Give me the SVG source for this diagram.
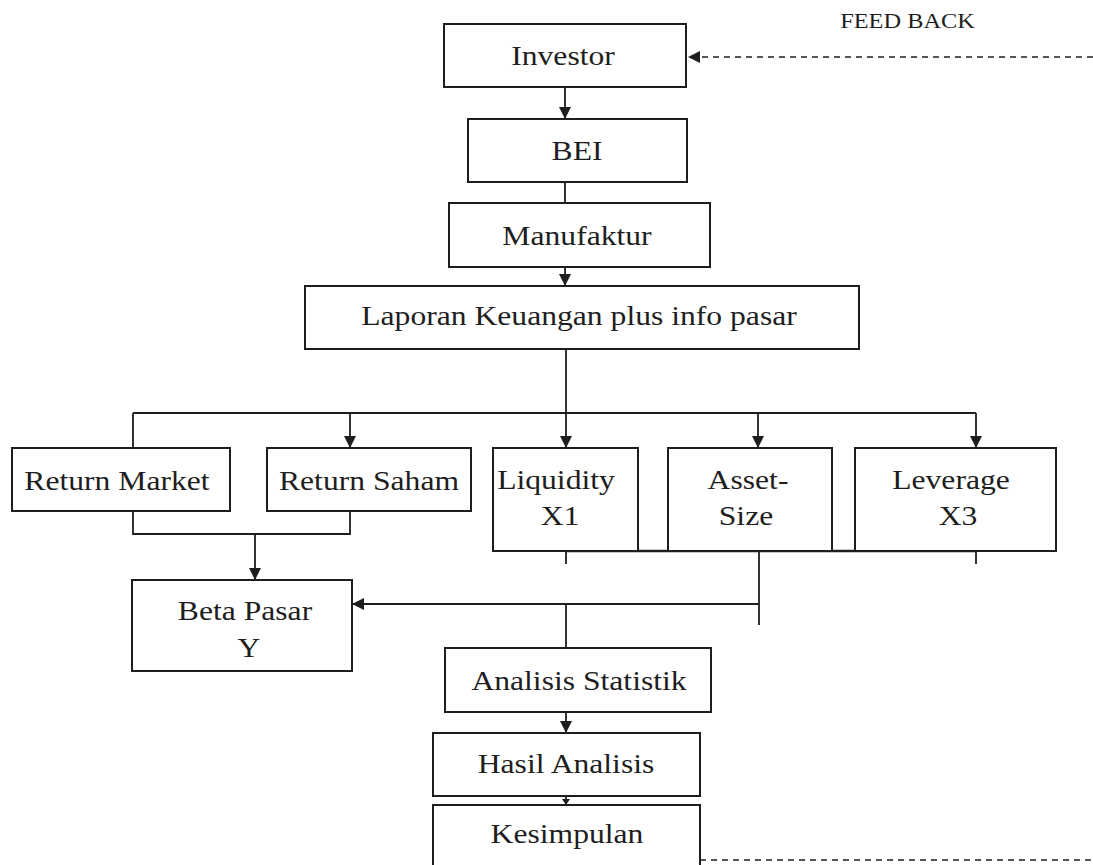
<svg xmlns="http://www.w3.org/2000/svg" width="1093" height="865" viewBox="0 0 1093 865">
  <defs>
    <style>
      .box { fill: #ffffff; stroke: #1e1e1e; stroke-width: 2; }
      .lbl { font-family: "Liberation Serif", "Times New Roman", serif; font-size: 28px; fill: #1e1e1e; text-anchor: middle; }
      .small { font-family: "Liberation Serif", "Times New Roman", serif; font-size: 21px; fill: #1e1e1e; text-anchor: middle; }
      .con { fill: none; stroke: #1e1e1e; stroke-width: 1.8; }
      .thick { fill: none; stroke: #1e1e1e; stroke-width: 2.6; }
      .dash { fill: none; stroke: #1e1e1e; stroke-width: 1.6; stroke-dasharray: 6 5; }
    </style>
    <marker id="arr" markerUnits="userSpaceOnUse" markerWidth="13" markerHeight="12" refX="12" refY="6" orient="auto">
      <path d="M0,0 L12,6 L0,12 z" fill="#1e1e1e"/>
    </marker>
    <marker id="arrS" markerUnits="userSpaceOnUse" markerWidth="7" markerHeight="8" refX="6" refY="4" orient="auto">
      <path d="M0,0 L6,4 L0,8 z" fill="#1e1e1e"/>
    </marker>
  </defs>
  <rect width="1093" height="865" fill="#ffffff"/>

  <text class="small" transform="translate(907.5 0) scale(1.16 1)" x="0" y="28.5">FEED BACK</text>

  <g id="connectors">
    <line class="dash" x1="1093" y1="57" x2="688" y2="57" marker-end="url(#arr)"/>
    <line class="con" x1="565" y1="87" x2="565" y2="119" marker-end="url(#arr)"/>
    <line class="con" x1="565" y1="182" x2="565" y2="203"/>
    <line class="con" x1="565" y1="267" x2="565" y2="286" marker-end="url(#arr)"/>
    <line class="con" x1="566" y1="349" x2="566" y2="448" marker-end="url(#arr)"/>
    <line class="con" x1="133" y1="413" x2="976" y2="413"/>
    <line class="con" x1="133" y1="413" x2="133" y2="448"/>
    <line class="con" x1="350" y1="413" x2="350" y2="448" marker-end="url(#arr)"/>
    <line class="con" x1="758" y1="413" x2="758" y2="448" marker-end="url(#arr)"/>
    <line class="con" x1="976" y1="413" x2="976" y2="448" marker-end="url(#arr)"/>
    <polyline class="con" points="133,511 133,534 350,534 350,511"/>
    <line class="con" x1="255" y1="534" x2="255" y2="580" marker-end="url(#arr)"/>
    <line class="thick" x1="566" y1="551" x2="976" y2="551"/>
    <line class="con" x1="566" y1="551" x2="566" y2="564"/>
    <line class="con" x1="976" y1="551" x2="976" y2="564"/>
    <line class="con" x1="759" y1="551" x2="759" y2="625"/>
    <line class="con" x1="759" y1="604" x2="352" y2="604" marker-end="url(#arr)"/>
    <line class="con" x1="566" y1="604" x2="566" y2="648"/>
    <line class="con" x1="566" y1="712" x2="566" y2="733" marker-end="url(#arr)"/>
    <line class="con" x1="566" y1="796" x2="566" y2="805" marker-end="url(#arrS)"/>
    <line class="dash" x1="700" y1="860" x2="1093" y2="860"/>
  </g>

  <g id="investor">
    <rect class="box" x="444" y="24" width="242" height="63"/>
    <text class="lbl" transform="translate(563 0) scale(1.13 1)" x="0" y="65">Investor</text>
  </g>
  <g id="bei">
    <rect class="box" x="468" y="119" width="219" height="63"/>
    <text class="lbl" transform="translate(577 0) scale(1.13 1)" x="0" y="160">BEI</text>
  </g>
  <g id="manufaktur">
    <rect class="box" x="449" y="203" width="261" height="64"/>
    <text class="lbl" transform="translate(577 0) scale(1.13 1)" x="0" y="245">Manufaktur</text>
  </g>
  <g id="laporan">
    <rect class="box" x="305" y="286" width="554" height="63"/>
    <text class="lbl" transform="translate(579 0) scale(1.13 1)" x="0" y="325">Laporan Keuangan plus info pasar</text>
  </g>
  <g id="return-market">
    <rect class="box" x="12" y="448" width="218" height="63"/>
    <text class="lbl" transform="translate(117 0) scale(1.13 1)" x="0" y="490">Return Market</text>
  </g>
  <g id="return-saham">
    <rect class="box" x="267" y="448" width="204" height="63"/>
    <text class="lbl" transform="translate(369 0) scale(1.13 1)" x="0" y="490">Return Saham</text>
  </g>
  <g id="liquidity">
    <rect class="box" x="493" y="448" width="145" height="103"/>
    <text class="lbl" transform="translate(556 0) scale(1.13 1)" x="0" y="489">Liquidity</text>
    <text class="lbl" transform="translate(560 0) scale(1.13 1)" x="0" y="525">X1</text>
  </g>
  <g id="asset-size">
    <rect class="box" x="668" y="448" width="164" height="103"/>
    <text class="lbl" transform="translate(748 0) scale(1.13 1)" x="0" y="489">Asset-</text>
    <text class="lbl" transform="translate(746 0) scale(1.13 1)" x="0" y="525">Size</text>
  </g>
  <g id="leverage">
    <rect class="box" x="855" y="448" width="201" height="103"/>
    <text class="lbl" transform="translate(951 0) scale(1.13 1)" x="0" y="489">Leverage</text>
    <text class="lbl" transform="translate(958 0) scale(1.13 1)" x="0" y="525">X3</text>
  </g>
  <g id="beta-pasar">
    <rect class="box" x="132" y="580" width="220" height="91"/>
    <text class="lbl" transform="translate(245 0) scale(1.13 1)" x="0" y="620">Beta Pasar</text>
    <text class="lbl" transform="translate(249 0) scale(1.13 1)" x="0" y="657">Y</text>
  </g>
  <g id="analisis-statistik">
    <rect class="box" x="445" y="648" width="266" height="64"/>
    <text class="lbl" transform="translate(579 0) scale(1.13 1)" x="0" y="690">Analisis Statistik</text>
  </g>
  <g id="hasil-analisis">
    <rect class="box" x="433" y="733" width="267" height="63"/>
    <text class="lbl" transform="translate(566 0) scale(1.13 1)" x="0" y="773">Hasil Analisis</text>
  </g>
  <g id="kesimpulan">
    <rect class="box" x="433" y="805" width="267" height="64"/>
    <text class="lbl" transform="translate(567 0) scale(1.13 1)" x="0" y="843">Kesimpulan</text>
  </g>
</svg>
